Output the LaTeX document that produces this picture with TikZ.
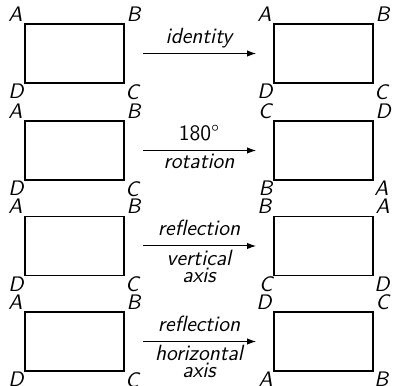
\documentclass[tikz,border=0pt]{standalone}
\usepackage{fontspec}
\usetikzlibrary{arrows.meta}
\begin{document}
\begin{tikzpicture}[x=0.5pt, y=-0.5pt,
  every node/.style={font=\fontsize{11}{13.5}\sffamily\itshape},
  rect/.style={draw, line width=0.95pt, minimum width=49.5pt, minimum height=29.5pt, inner sep=0pt},
  corner/.style={font=\fontsize{10.5}{12.5}\sffamily\itshape},
  cornerNW/.style={corner, anchor=south east, inner sep=0.6pt},
  cornerNE/.style={corner, anchor=south west, inner sep=0.6pt},
  cornerSW/.style={corner, anchor=north east, inner sep=0pt},
  cornerSE/.style={corner, anchor=north west, inner sep=0pt},
  maparrow/.style={-{Latex[length=4.5pt,width=3.2pt]}, line width=0.5pt, shorten <=9pt, shorten >=8.5pt},
  toplabel/.style={anchor=south, text depth=3.3pt, inner sep=1.5pt},
  botlabel/.style={anchor=north, inner sep=1.8pt, align=center}
]
\useasboundingbox (0,0) rectangle (393,386);

% row 1: identity
\node[rect] (L1) at (74.5,53.5) {};
\node[rect] (R1) at (323.5,53.5) {};
\node[cornerNW] at (L1.north west) {A};
\node[cornerNE] at (L1.north east) {B};
\node[cornerSW] at (L1.south west) {D};
\node[cornerSE] at (L1.south east) {C};
\node[cornerNW] at (R1.north west) {A};
\node[cornerNE] at (R1.north east) {B};
\node[cornerSW] at (R1.south west) {D};
\node[cornerSE] at (R1.south east) {C};
\draw[maparrow] (L1) -- node[toplabel] {identity} (R1);

% row 2: half turn
\node[rect] (L2) at (74.5,150.5) {};
\node[rect] (R2) at (323.5,150.5) {};
\node[cornerNW] at (L2.north west) {A};
\node[cornerNE] at (L2.north east) {B};
\node[cornerSW] at (L2.south west) {D};
\node[cornerSE] at (L2.south east) {C};
\node[cornerNW] at (R2.north west) {C};
\node[cornerNE] at (R2.north east) {D};
\node[cornerSW] at (R2.south west) {B};
\node[cornerSE] at (R2.south east) {A};
\draw[maparrow] (L2) -- node[toplabel, font=\fontsize{11}{13.5}\sffamily] {180°} node[botlabel] {rotation} (R2);

% row 3: mirror in the vertical axis
\node[rect] (L3) at (74.5,246) {};
\node[rect] (R3) at (323.5,246) {};
\node[cornerNW] at (L3.north west) {A};
\node[cornerNE] at (L3.north east) {B};
\node[cornerSW] at (L3.south west) {D};
\node[cornerSE] at (L3.south east) {C};
\node[cornerNW] at (R3.north west) {B};
\node[cornerNE] at (R3.north east) {A};
\node[cornerSW] at (R3.south west) {C};
\node[cornerSE] at (R3.south east) {D};
\draw[maparrow] (L3) -- node[toplabel] {reflection} node[botlabel] {vertical\\[-5pt]axis} (R3);

% row 4: mirror in the horizontal axis
\node[rect] (L4) at (74.5,341.5) {};
\node[rect] (R4) at (323.5,341.5) {};
\node[cornerNW] at (L4.north west) {A};
\node[cornerNE] at (L4.north east) {B};
\node[cornerSW] at (L4.south west) {D};
\node[cornerSE] at (L4.south east) {C};
\node[cornerNW] at (R4.north west) {D};
\node[cornerNE] at (R4.north east) {C};
\node[cornerSW] at (R4.south west) {A};
\node[cornerSE] at (R4.south east) {B};
\draw[maparrow] (L4) -- node[toplabel] {reflection} node[botlabel] {horizontal\\[-5pt]axis} (R4);
\end{tikzpicture}
\end{document}
